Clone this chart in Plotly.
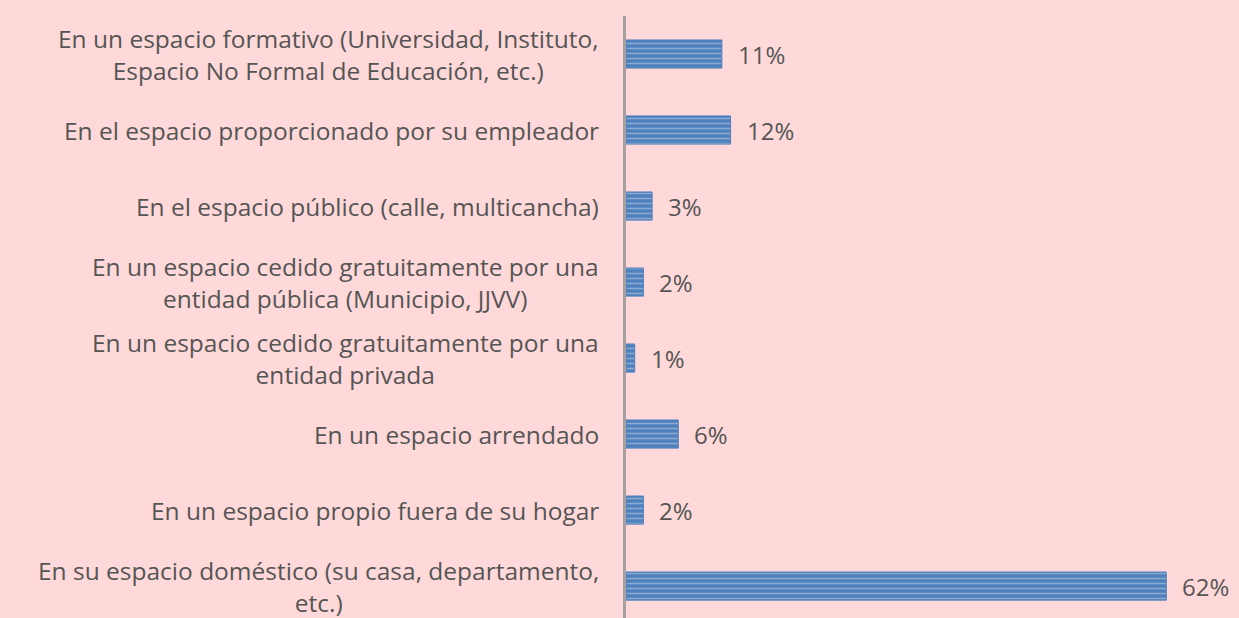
import plotly.graph_objects as go

categories = [
    "En un espacio formativo (Universidad, Instituto,<br>Espacio No Formal de Educación, etc.)",
    "En el espacio proporcionado por su empleador",
    "En el espacio público (calle, multicancha)",
    "En un espacio cedido gratuitamente por una<br>entidad pública (Municipio, JJVV)",
    "En un espacio cedido gratuitamente por una<br>entidad privada",
    "En un espacio arrendado",
    "En un espacio propio fuera de su hogar",
    "En su espacio doméstico (su casa, departamento,<br>etc.)",
]
values = [11, 12, 3, 2, 1, 6, 2, 62]
value_labels = ["11%", "12%", "3%", "2%", "1%", "6%", "2%", "62%"]

W, H = 1239, 618
ML, MR, MT, MB = 626, 3, 16, 0
FONT = "Open Sans"
TXT = "#555555"

fig = go.Figure()
fig.add_trace(go.Bar(
    y=categories, x=values, orientation="h",
    marker=dict(
        color="#4F81BD",
        line=dict(color="#4F81BD", width=1),
        pattern=dict(shape="-", fgcolor="#C9D3E8", bgcolor="#4F81BD", size=5, solidity=0.3),
    ),
    hoverinfo="skip",
))

plot_w = W - ML - MR
for c, v, lab in zip(categories, values, value_labels):
    fig.add_annotation(x=v, y=c, xref="x", yref="y", text=lab, showarrow=False,
                       xanchor="left", xshift=14, font=dict(family=FONT, size=24, color=TXT))
    fig.add_annotation(x=(601 - ML) / plot_w, y=c, xref="paper", yref="y", text=c,
                       showarrow=False, xanchor="right", align="center",
                       font=dict(family=FONT, size=24.5, color=TXT))

fig.update_layout(
    width=W, height=H,
    margin=dict(l=ML, r=MR, t=MT, b=MB),
    paper_bgcolor="#FFD9D9", plot_bgcolor="#FFD9D9",
    bargap=0.63, showlegend=False,
)
fig.update_xaxes(range=[0, 70], showgrid=False, zeroline=False, showticklabels=False,
                 showline=False, fixedrange=True)
fig.update_yaxes(autorange=False, range=[7.42, -0.5], showgrid=False, zeroline=False,
                 showticklabels=False, showline=True, linecolor="#A6A0A0", linewidth=3,
                 ticks="", fixedrange=True)
fig.write_html("out.html", config={"displayModeBar": False},
               post_script="document.body.style.margin='0';document.body.style.background='#FFD9D9';")
